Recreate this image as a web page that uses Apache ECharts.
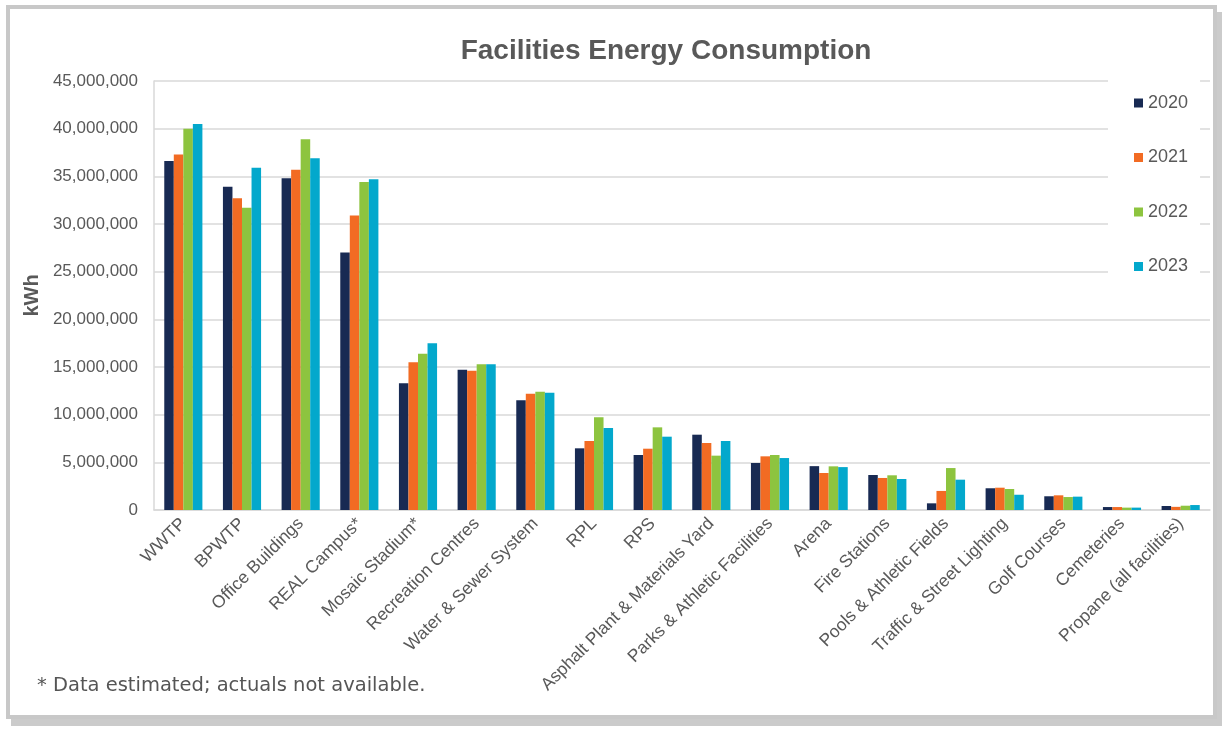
<!DOCTYPE html>
<html>
<head>
<meta charset="utf-8">
<script src="https://cdn.jsdelivr.net/npm/echarts@6/dist/echarts.min.js"></script>
<style>
  html, body { margin: 0; padding: 0; background: #fff; }
  #chart { width: 1225px; height: 730px; }
  /* grey card frame with offset shadow */
  #frame {
    position: absolute; left: 6px; top: 5px; width: 1203px; height: 706px;
    border: 4px solid #c8c8c8; box-shadow: 5px 7px 0 #cbcbcb; pointer-events: none;
  }
</style>
</head>
<body>
<div id="chart"></div>
<div id="frame"></div>
<script>
const categories = [
  "WWTP", "BPWTP", "Office Buildings", "REAL Campus*", "Mosaic Stadium*",
  "Recreation Centres", "Water & Sewer System", "RPL", "RPS",
  "Asphalt Plant & Materials Yard", "Parks & Athletic Facilities", "Arena",
  "Fire Stations", "Pools & Athletic Fields", "Traffic & Street Lighting",
  "Golf Courses", "Cemeteries", "Propane (all facilities)"
];

const years = ["2020", "2021", "2022", "2023"];
const colors = ["#182a53", "#f26b23", "#8dc43f", "#03a8cc"];

const kwh2020 = [36600000, 33900000, 34800000, 27000000, 13300000, 14700000, 11500000, 6470000, 5770000,
  7900000, 4930000, 4600000, 3670000, 700000, 2280000, 1440000, 310000, 420000];
const kwh2021 = [37300000, 32700000, 35700000, 30900000, 15500000, 14600000, 12200000, 7240000, 6430000,
  7030000, 5630000, 3880000, 3360000, 2000000, 2340000, 1540000, 310000, 330000];
const kwh2022 = [40000000, 31700000, 38900000, 34400000, 16400000, 15300000, 12400000, 9720000, 8670000,
  5700000, 5770000, 4580000, 3640000, 4400000, 2200000, 1360000, 250000, 450000];
const kwh2023 = [40500000, 35900000, 36900000, 34700000, 17500000, 15300000, 12300000, 8600000, 7690000,
  7240000, 5450000, 4500000, 3250000, 3180000, 1600000, 1400000, 250000, 520000];

const seriesValues = [kwh2020, kwh2021, kwh2022, kwh2023];

const yMin = 0, yMax = 45000000, yStep = 5000000;

const textGrey = "#595959";
const gridGrey = "#d9d9d9";

const chart = echarts.init(document.getElementById("chart"), null, { renderer: "canvas" });

chart.setOption({
  backgroundColor: "#fff",
  animation: false,
  title: {
    text: "Facilities Energy Consumption",
    left: 661,
    top: 32,
    textAlign: "center",
    textStyle: { fontFamily: "Liberation Sans", fontWeight: "bold", fontSize: 28, color: textGrey }
  },
  legend: {
    orient: "vertical",
    left: 1108,
    top: 80,
    padding: [14, 12, 14, 26],
    backgroundColor: "#fff",
    itemWidth: 9,
    itemHeight: 9,
    itemGap: 36.5,
    icon: "rect",
    data: years,
    textStyle: { fontFamily: "Liberation Sans", fontSize: 18, lineHeight: 18, color: textGrey }
  },
  grid: { left: 154, right: 15, top: 81, bottom: 220, containLabel: false },
  xAxis: {
    type: "category",
    data: categories,
    axisTick: { show: false },
    axisLine: { lineStyle: { color: gridGrey, width: 1.5 } },
    axisLabel: {
      interval: 0, rotate: 45, margin: 11,
      fontFamily: "Liberation Sans", fontSize: 17.5, color: textGrey
    }
  },
  yAxis: {
    type: "value",
    min: yMin, max: yMax, interval: yStep,
    name: "kWh",
    nameLocation: "middle",
    nameRotate: 90,
    nameGap: 110,
    nameTextStyle: { fontFamily: "Liberation Sans", fontWeight: "bold", fontSize: 20, color: textGrey },
    axisLine: { show: true, lineStyle: { color: gridGrey, width: 1.5 } },
    axisTick: { show: false },
    splitLine: { lineStyle: { color: gridGrey, width: 1.5 } },
    axisLabel: {
      margin: 16,
      fontFamily: "Liberation Sans", fontSize: 17, color: textGrey,
      formatter: (v) => v.toLocaleString("en-US")
    }
  },
  graphic: [{
    type: "text",
    left: 37,
    top: 676,
    style: {
      text: "* Data estimated; actuals not available.",
      font: "19.5px 'DejaVu Sans'",
      fill: "#555555"
    }
  }],
  series: years.map((y, i) => ({
    name: y,
    type: "bar",
    data: seriesValues[i],
    barGap: "0%",
    barCategoryGap: "35%",
    itemStyle: { color: colors[i] }
  }))
});
</script>
</body>
</html>
